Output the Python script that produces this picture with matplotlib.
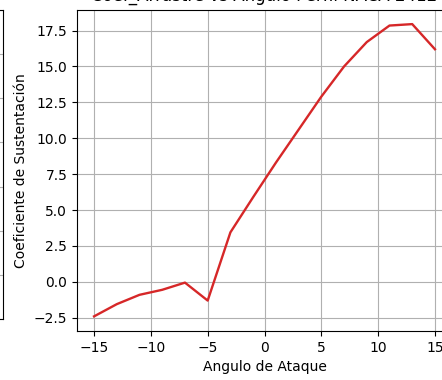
import numpy as np
import matplotlib
matplotlib.use('Agg')
import matplotlib.pyplot as plt
from matplotlib.ticker import MultipleLocator

# angulo de ataque (grados) y coeficiente de sustentacion
angulos = [-15, -13, -11, -9, -7, -5, -3, -1, 1, 3, 5, 7, 9, 11, 13, 15]
coef_sust = [-2.4, -1.55, -0.9, -0.55, -0.05, -1.3, 3.45, 5.9, 8.3, 10.6,
             12.9, 15.0, 16.7, 17.85, 17.95, 16.2]

titulo = 'Coef_Arrastre vs Angulo Perfil NACA 2412'


def prepare_neighbor(fig):
    '''
    Panel vecino (recortado a la izquierda), solo se ve su borde derecho
    '''
    ax = fig.add_axes([-0.8, 0.16, 0.8068, 0.814])
    ax.set_ylim(0, 7)
    ax.yaxis.set_major_locator(MultipleLocator(1))
    ax.set_xticks([])
    ax.grid(True)
    ax.tick_params(labelleft=False)
    return ax


def draw_coef(fig):
    ax = fig.add_axes([77 / 442, 0.129, 375 / 442, 0.846])
    ax.plot(angulos, coef_sust, color='tab:red', linewidth=1.7)
    ax.set_title(titulo, fontsize=12)
    ax.set_xlabel('Angulo de Ataque')
    ax.set_ylabel('Coeficiente de Sustentación')
    ax.set_xticks([-15, -10, -5, 0, 5, 10, 15])
    ax.yaxis.set_major_locator(MultipleLocator(2.5))
    ax.grid(True)
    return ax


if __name__ == '__main__':
    fig = plt.figure(figsize=(4.42, 3.80), dpi=100)
    prepare_neighbor(fig)
    draw_coef(fig)
    fig.savefig('out.png', dpi=100)
